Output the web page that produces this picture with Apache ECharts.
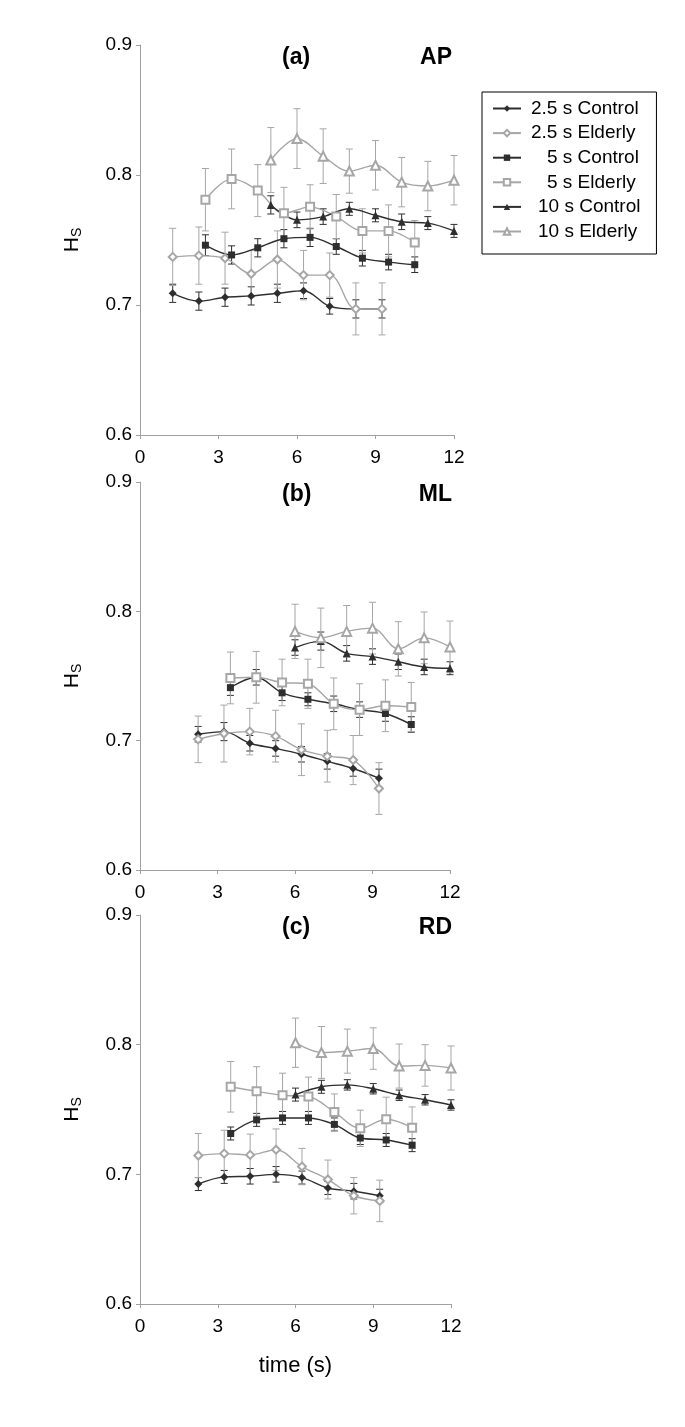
<!DOCTYPE html>
<html>
<head>
<meta charset="utf-8">
<script src="https://cdn.jsdelivr.net/npm/echarts@6/dist/echarts.min.js"></script>
<style>
html,body{margin:0;padding:0;background:#fff;}
#chart{width:685px;height:1427px;}
</style>
</head>
<body>
<div id="chart"></div>
<script>
// ---------- data ----------
const SERIES_NAMES = ['2.5 s Control', '2.5 s Elderly', '5 s Control', '5 s Elderly', '10 s Control', '10 s Elderly'];
const PANEL_LABELS = ['(a)', '(b)', '(c)'];
const PANEL_DIRS = ['AP', 'ML', 'RD'];
const X_TICKS = [0, 3, 6, 9, 12];
const Y_TICKS = [0.6, 0.7, 0.8, 0.9];

// panel (a) AP
const X25_A = [1.25, 2.25, 3.25, 4.25, 5.25, 6.25, 7.25, 8.25, 9.25];
const X5_A = [2.5, 3.5, 4.5, 5.5, 6.5, 7.5, 8.5, 9.5, 10.5];
const X10_A = [5, 6, 7, 8, 9, 10, 11, 12];
const C25_A = [0.709, 0.703, 0.706, 0.707, 0.709, 0.711, 0.699, 0.697, 0.697];
const C25_A_ERR = [0.007, 0.007, 0.007, 0.007, 0.007, 0.006, 0.006, 0.007, 0.007];
const E25_A = [0.737, 0.738, 0.736, 0.724, 0.735, 0.723, 0.723, 0.697, 0.697];
const E25_A_ERR = [0.022, 0.022, 0.020, 0.018, 0.022, 0.019, 0.017, 0.020, 0.020];
const C5_A = [0.746, 0.7385, 0.744, 0.751, 0.752, 0.745, 0.736, 0.733, 0.731];
const C5_A_ERR = [0.008, 0.007, 0.007, 0.007, 0.007, 0.006, 0.006, 0.006, 0.006];
const E5_A = [0.781, 0.797, 0.788, 0.7705, 0.7755, 0.768, 0.757, 0.757, 0.748];
const E5_A_ERR = [0.024, 0.023, 0.020, 0.020, 0.017, 0.017, 0.017, 0.020, 0.017];
const C10_A = [0.777, 0.7655, 0.768, 0.774, 0.769, 0.764, 0.763, 0.757];
const C10_A_ERR = [0.007, 0.006, 0.006, 0.005, 0.005, 0.006, 0.005, 0.005];
const E10_A = [0.8115, 0.828, 0.8145, 0.803, 0.8075, 0.7945, 0.7915, 0.796];
const E10_A_ERR = [0.025, 0.023, 0.021, 0.017, 0.019, 0.019, 0.019, 0.019];

// panel (b) ML
const X25_B = [2.25, 3.25, 4.25, 5.25, 6.25, 7.25, 8.25, 9.25];
const X5_B = [3.5, 4.5, 5.5, 6.5, 7.5, 8.5, 9.5, 10.5];
const X10_B = [6, 7, 8, 9, 10, 11, 12];
const C25_B = [0.705, 0.707, 0.698, 0.694, 0.6895, 0.684, 0.6785, 0.671];
const C25_B_ERR = [0.006, 0.007, 0.006, 0.006, 0.006, 0.006, 0.006, 0.007];
const E25_B = [0.701, 0.7055, 0.707, 0.7035, 0.693, 0.688, 0.685, 0.663];
const E25_B_ERR = [0.018, 0.022, 0.018, 0.020, 0.020, 0.020, 0.019, 0.020];
const C5_B = [0.741, 0.749, 0.737, 0.732, 0.7285, 0.724, 0.721, 0.7125];
const C5_B_ERR = [0.006, 0.006, 0.006, 0.005, 0.006, 0.006, 0.006, 0.006];
const E5_B = [0.7485, 0.749, 0.745, 0.744, 0.7285, 0.724, 0.727, 0.726];
const E5_B_ERR = [0.020, 0.020, 0.018, 0.019, 0.020, 0.020, 0.020, 0.019];
const C10_B = [0.772, 0.777, 0.7675, 0.765, 0.761, 0.757, 0.756];
const C10_B_ERR = [0.006, 0.007, 0.006, 0.006, 0.006, 0.006, 0.005];
const E10_B = [0.7845, 0.7795, 0.7845, 0.787, 0.771, 0.7795, 0.7725];
const E10_B_ERR = [0.021, 0.023, 0.020, 0.020, 0.021, 0.020, 0.020];

// panel (c) RD
const X25_C = [2.25, 3.25, 4.25, 5.25, 6.25, 7.25, 8.25, 9.25];
const X5_C = [3.5, 4.5, 5.5, 6.5, 7.5, 8.5, 9.5, 10.5];
const X10_C = [6, 7, 8, 9, 10, 11, 12];
const C25_C = [0.6925, 0.698, 0.6985, 0.700, 0.6975, 0.6895, 0.687, 0.6835];
const C25_C_ERR = [0.005, 0.005, 0.006, 0.006, 0.005, 0.005, 0.006, 0.005];
const E25_C = [0.7145, 0.716, 0.715, 0.719, 0.706, 0.696, 0.6835, 0.6795];
const E25_C_ERR = [0.017, 0.018, 0.016, 0.016, 0.014, 0.015, 0.014, 0.016];
const C5_C = [0.7315, 0.742, 0.7435, 0.7435, 0.7385, 0.728, 0.7265, 0.7225];
const C5_C_ERR = [0.005, 0.005, 0.005, 0.005, 0.005, 0.005, 0.005, 0.005];
const E5_C = [0.7675, 0.764, 0.761, 0.760, 0.748, 0.7355, 0.7425, 0.736];
const E5_C_ERR = [0.0195, 0.019, 0.017, 0.015, 0.014, 0.014, 0.017, 0.016];
const C10_C = [0.7615, 0.7675, 0.769, 0.766, 0.761, 0.7575, 0.7535];
const C10_C_ERR = [0.005, 0.005, 0.004, 0.004, 0.004, 0.004, 0.004];
const E10_C = [0.8015, 0.794, 0.795, 0.797, 0.7835, 0.784, 0.782];
const E10_C_ERR = [0.019, 0.020, 0.017, 0.016, 0.017, 0.016, 0.017];

// ---------- build ----------
const FONT = "'Liberation Sans', Arial, sans-serif";
const DARK = '#2e2e2e';
const LIGHT = '#a6a6a6';
const AXIS_COL = '#a0a0a0';

const PANELS = [
  [[X25_A, C25_A, C25_A_ERR], [X25_A, E25_A, E25_A_ERR], [X5_A, C5_A, C5_A_ERR], [X5_A, E5_A, E5_A_ERR], [X10_A, C10_A, C10_A_ERR], [X10_A, E10_A, E10_A_ERR]],
  [[X25_B, C25_B, C25_B_ERR], [X25_B, E25_B, E25_B_ERR], [X5_B, C5_B, C5_B_ERR], [X5_B, E5_B, E5_B_ERR], [X10_B, C10_B, C10_B_ERR], [X10_B, E10_B, E10_B_ERR]],
  [[X25_C, C25_C, C25_C_ERR], [X25_C, E25_C, E25_C_ERR], [X5_C, C5_C, C5_C_ERR], [X5_C, E5_C, E5_C_ERR], [X10_C, C10_C, C10_C_ERR], [X10_C, E10_C, E10_C_ERR]]
];

const STYLES = [
  {color: DARK, symbol: 'diamond', size: 8},
  {color: LIGHT, symbol: 'emptyDiamond', size: 8},
  {color: DARK, symbol: 'rect', size: 7},
  {color: LIGHT, symbol: 'emptyRect', size: 8},
  {color: DARK, symbol: 'triangle', size: 8},
  {color: LIGHT, symbol: 'emptyTriangle', size: 9}
];

const GRIDS = [
  {left: 140, top: 45, width: 314, height: 390},
  {left: 140, top: 482, width: 310, height: 388},
  {left: 140, top: 915, width: 311, height: 389}
];

const xAxes = [], yAxes = [], lineSeries = [], errSeries = [], titles = [];
GRIDS.forEach((g, p) => {
  xAxes.push({
    type: 'value', gridIndex: p, min: X_TICKS[0], max: X_TICKS[X_TICKS.length - 1], interval: 3,
    axisLine: {lineStyle: {color: AXIS_COL, width: 1}},
    axisTick: {show: true, length: 4, lineStyle: {color: AXIS_COL}},
    splitLine: {show: false},
    axisLabel: {color: '#000', fontSize: 19, fontFamily: FONT, margin: 13},
    name: p === 2 ? 'time (s)' : '',
    nameLocation: 'middle', nameGap: 51,
    nameTextStyle: {color: '#000', fontSize: 22, fontFamily: FONT}
  });
  yAxes.push({
    type: 'value', gridIndex: p, min: Y_TICKS[0], max: Y_TICKS[Y_TICKS.length - 1], interval: 0.1,
    axisLine: {show: true, lineStyle: {color: AXIS_COL, width: 1}},
    axisTick: {show: true, length: 4, lineStyle: {color: AXIS_COL}},
    splitLine: {show: false},
    axisLabel: {color: '#000', fontSize: 19, fontFamily: FONT, margin: 8, formatter: v => v.toFixed(1)},
    name: '{h|H}{s|S}', nameLocation: 'middle', nameRotate: 90, nameGap: 56,
    nameTextStyle: {
      color: '#000', fontFamily: FONT,
      rich: {
        h: {fontSize: 21, lineHeight: 24, fontFamily: FONT, color: '#000'},
        s: {fontSize: 14, lineHeight: 14, padding: [10, 0, 0, 0], fontFamily: FONT, color: '#000'}
      }
    }
  });
  titles.push({
    text: PANEL_LABELS[p], left: 282, top: g.top + 1, padding: 0,
    textStyle: {fontSize: 23, fontWeight: 'bold', color: '#000', fontFamily: FONT}
  });
  titles.push({
    text: PANEL_DIRS[p], right: 685 - 452, top: g.top + 1, padding: 0,
    textStyle: {fontSize: 23, fontWeight: 'bold', color: '#000', fontFamily: FONT}
  });
  PANELS[p].forEach((grp, s) => {
    const [xs, ys, es] = grp;
    const st = STYLES[s];
    lineSeries.push({
      name: SERIES_NAMES[s], type: 'line', xAxisIndex: p, yAxisIndex: p,
      data: xs.map((x, i) => [x, ys[i]]),
      smooth: 0.35, symbol: st.symbol, symbolSize: st.size, showSymbol: true,
      lineStyle: {color: st.color, width: 1.4},
      itemStyle: {color: st.color, borderColor: st.color, borderWidth: st.symbol.startsWith('empty') ? 1 : 0},
      z: 3, animation: false
    });
    errSeries.push({
      type: 'custom', xAxisIndex: p, yAxisIndex: p, z: 2, animation: false, silent: true,
      data: xs.map((x, i) => [x, ys[i] - es[i], ys[i] + es[i]]),
      renderItem: (params, api) => {
        const x = api.value(0);
        const lo = api.coord([x, api.value(1)]);
        const hi = api.coord([x, api.value(2)]);
        const w = 3.5;
        const sty = {stroke: st.color, lineWidth: 1};
        return {type: 'group', children: [
          {type: 'line', shape: {x1: lo[0], y1: lo[1], x2: hi[0], y2: hi[1]}, style: sty},
          {type: 'line', shape: {x1: lo[0] - w, y1: lo[1], x2: lo[0] + w, y2: lo[1]}, style: sty},
          {type: 'line', shape: {x1: hi[0] - w, y1: hi[1], x2: hi[0] + w, y2: hi[1]}, style: sty}
        ]};
      }
    });
  });
});

const PAD_KEY = {'2.5 s Control': 'p0', '2.5 s Elderly': 'p0', '5 s Control': 'p2', '5 s Elderly': 'p2', '10 s Control': 'p1', '10 s Elderly': 'p1'};
const legendRich = {
  p0: {fontSize: 19, lineHeight: 19, fontFamily: FONT, color: '#000', padding: [0, 0, 0, 5]},
  p1: {fontSize: 19, lineHeight: 19, fontFamily: FONT, color: '#000', padding: [0, 0, 0, 12]},
  p2: {fontSize: 19, lineHeight: 19, fontFamily: FONT, color: '#000', padding: [0, 0, 0, 21]}
};

const option = {
  animation: false,
  backgroundColor: '#fff',
  title: titles,
  grid: GRIDS,
  xAxis: xAxes,
  yAxis: yAxes,
  legend: {
    data: SERIES_NAMES, orient: 'vertical', left: 482, top: 92,
    padding: [7, 16, 13, 10], itemGap: 5.6, itemWidth: 28, itemHeight: 8,
    borderColor: '#000', borderWidth: 1, selectedMode: false,
    formatter: n => '{' + PAD_KEY[n] + '|' + n + '}',
    textStyle: {fontSize: 19, color: '#000', fontFamily: FONT, rich: legendRich}
  },
  series: lineSeries.concat(errSeries)
};

const chart = echarts.init(document.getElementById('chart'), null, {renderer: 'canvas'});
chart.setOption(option);
</script>
</body>
</html>
